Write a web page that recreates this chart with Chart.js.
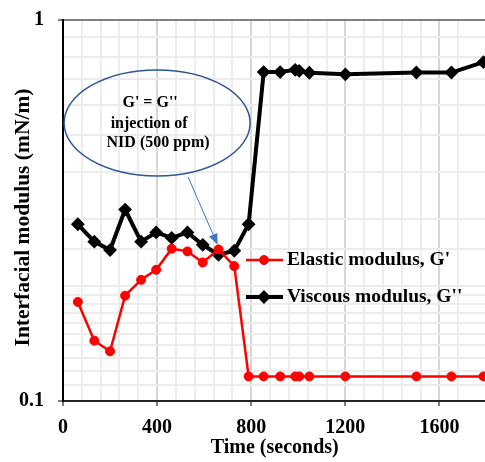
<!DOCTYPE html>
<html>
<head>
<meta charset="utf-8">
<script src="https://cdn.jsdelivr.net/npm/chart.js@4"></script>
<style>
  html, body { margin: 0; background: #fff; overflow: hidden; }
  #wrap { width: 485px; height: 462px; overflow: hidden; }
</style>
</head>
<body>
<!-- canvas is a little wider than the window: the figure is cut at the right edge like the original -->
<div id="wrap"><canvas id="modulusChart" width="494" height="462"></canvas></div>
<script>
// Chart data
const timeSec = [63, 133, 200, 264, 332, 396, 462, 529, 594, 661, 728, 789, 853, 923, 987, 1004, 1047, 1200, 1502, 1651, 1787];
const elasticG1 = [0.182, 0.144, 0.135, 0.189, 0.208, 0.221, 0.251, 0.247, 0.231, 0.250, 0.226,
                   0.116, 0.116, 0.116, 0.116, 0.116, 0.116, 0.116, 0.116, 0.116, 0.116];
const viscousG2 = [0.291, 0.262, 0.249, 0.318, 0.262, 0.277, 0.268, 0.277, 0.257, 0.242, 0.248,
                   0.291, 0.730, 0.730, 0.740, 0.735, 0.727, 0.720, 0.728, 0.728, 0.775];
const xMajorTicks = [0, 400, 800, 1200, 1600];
const yLabelTicks = [0.1, 1];
const seriesNames = ["Elastic modulus, G'", "Viscous modulus, G''"];
const noteLines = ["G' = G''", "injection of", "NID (500 ppm)"];
const yTitle = 'Interfacial modulus (mN/m)';

const FONT = "'Liberation Serif', 'Times New Roman', serif";

const toPoints = (xs, ys) => xs.map((x, i) => ({ x: x, y: ys[i] }));
const isMajorX = v => xMajorTicks.includes(v);
const isLabelY = v => yLabelTicks.some(t => Math.abs(t - v) < 1e-9);

// Legend drawn inside the plot, right of the drop
const insideLegend = {
    id: 'insideLegend',
    afterDatasetsDraw(chart) {
        const ctx = chart.ctx;
        const area = chart.chartArea;
        const x0 = area.left + 183;
        const rows = [area.top + 240, area.top + 277];
        ctx.save();
        chart.data.datasets.forEach((ds, i) => {
            const y = rows[i];
            ctx.strokeStyle = ds.borderColor;
            ctx.lineWidth = ds.borderWidth;
            ctx.beginPath();
            ctx.moveTo(x0, y);
            ctx.lineTo(x0 + 37, y);
            ctx.stroke();
            ctx.fillStyle = ds.pointBackgroundColor;
            ctx.strokeStyle = ds.pointBorderColor;
            ctx.lineWidth = ds.pointBorderWidth;
            Chart.helpers.drawPoint(ctx, {
                pointStyle: ds.pointStyle,
                radius: ds.pointRadius,
                borderWidth: ds.pointBorderWidth
            }, x0 + 18, y);
            ctx.fillStyle = '#000';
            ctx.font = 'bold 19.5px ' + FONT;
            ctx.textBaseline = 'middle';
            ctx.textAlign = 'left';
            ctx.fillText(ds.label, x0 + 41, y);
        });
        ctx.restore();
    }
};

// Callout ellipse with arrow, plus the rotated y title
const callout = {
    id: 'callout',
    afterDatasetsDraw(chart) {
        const ctx = chart.ctx;
        const xs = chart.scales.x, ys = chart.scales.y;
        const cx = xs.getPixelForValue(400), cy = ys.getPixelForValue(0.537);
        ctx.save();
        ctx.strokeStyle = '#2f5597';
        ctx.lineWidth = 1.5;
        ctx.beginPath();
        ctx.ellipse(cx, cy, 93, 53, 0, 0, Math.PI * 2);
        ctx.stroke();

        ctx.fillStyle = '#000';
        ctx.font = 'bold 16px ' + FONT;
        ctx.textAlign = 'center';
        ctx.textBaseline = 'middle';
        ctx.fillText(noteLines[0], cx - 7, cy - 20);
        ctx.fillText(noteLines[1], cx - 8, cy + 1);
        ctx.fillText(noteLines[2], cx + 1, cy + 20);

        const ax = xs.getPixelForValue(532), ay = ys.getPixelForValue(0.387);
        const bx = xs.getPixelForValue(657), by = ys.getPixelForValue(0.257);
        const ang = Math.atan2(by - ay, bx - ax);
        const len = 11, half = 4.5;
        ctx.strokeStyle = '#4472c4';
        ctx.fillStyle = '#4472c4';
        ctx.lineWidth = 1;
        ctx.beginPath();
        ctx.moveTo(ax, ay);
        ctx.lineTo(bx - len * Math.cos(ang), by - len * Math.sin(ang));
        ctx.stroke();
        ctx.beginPath();
        ctx.moveTo(bx, by);
        ctx.lineTo(bx - len * Math.cos(ang) + half * Math.sin(ang), by - len * Math.sin(ang) - half * Math.cos(ang));
        ctx.lineTo(bx - len * Math.cos(ang) - half * Math.sin(ang), by - len * Math.sin(ang) + half * Math.cos(ang));
        ctx.closePath();
        ctx.fill();

        // y axis title, sits a bit below the plot's middle in the original
        ctx.translate(23, (chart.chartArea.top + chart.chartArea.bottom) / 2 + 7);
        ctx.rotate(-Math.PI / 2);
        ctx.fillStyle = '#000';
        ctx.font = 'bold 21.5px ' + FONT;
        ctx.fillText(yTitle, 0, 0);
        ctx.restore();
    }
};

const bgWhite = {
    id: 'bgWhite',
    beforeDraw(chart) {
        const ctx = chart.ctx;
        ctx.save();
        ctx.fillStyle = '#fff';
        ctx.fillRect(0, 0, chart.width, chart.height);
        ctx.restore();
    }
};

const chartCtx = document.getElementById('modulusChart').getContext('2d');
new Chart(chartCtx, {
    type: 'line',
    data: {
        datasets: [
            {
                label: seriesNames[0],
                data: toPoints(timeSec, elasticG1),
                borderColor: '#ff0000',
                backgroundColor: '#ff0000',
                borderWidth: 2.5,
                pointStyle: 'circle',
                pointRadius: 4.5,
                pointBorderWidth: 1,
                pointBackgroundColor: '#ff0000',
                pointBorderColor: '#ff0000',
                tension: 0
            },
            {
                label: seriesNames[1],
                data: toPoints(timeSec, viscousG2),
                borderColor: '#000000',
                backgroundColor: '#000000',
                borderWidth: 4,
                pointStyle: 'rectRot',
                pointRadius: 5.5,
                pointBorderWidth: 2,
                pointBackgroundColor: '#000000',
                pointBorderColor: '#000000',
                tension: 0
            }
        ]
    },
    options: {
        responsive: false,
        animation: false,
        layout: { padding: { top: 20, right: 0, left: 0, bottom: 0 } },
        plugins: {
            legend: { display: false },
            tooltip: { enabled: false }
        },
        scales: {
            x: {
                type: 'linear',
                min: 0,
                max: 1800,
                afterFit: s => { s.height = 61; s.paddingLeft = 0; s.paddingRight = 0; },
                border: { color: '#222', width: 2 },
                grid: {
                    color: c => isMajorX(c.tick.value) ? '#d6d6d6' : '#ececec',
                    lineWidth: 2,
                    tickColor: c => isMajorX(c.tick.value) ? '#000' : 'rgba(0,0,0,0)',
                    tickLength: 5,
                    tickWidth: 1
                },
                ticks: {
                    stepSize: 80,
                    maxTicksLimit: 100,
                    autoSkip: false,
                    maxRotation: 0,
                    padding: 10,
                    color: '#000',
                    font: { family: FONT, size: 20, weight: 'bold' },
                    callback: v => isMajorX(v) ? String(v) : ''
                },
                title: {
                    display: true,
                    text: 'Time (seconds)',
                    color: '#000',
                    font: { family: FONT, size: 20, weight: 'bold' },
                    padding: { top: 0, bottom: 2 }
                }
            },
            y: {
                type: 'logarithmic',
                min: 0.1,
                max: 1,
                afterFit: s => { s.width = 63; s.paddingTop = 0; s.paddingBottom = 0; },
                border: { color: '#000', width: 2 },
                grid: {
                    color: c => Math.abs(c.tick.value - 1) < 1e-9 ? '#808080' : '#ececec',
                    lineWidth: 2,
                    tickColor: c => isLabelY(c.tick.value) ? '#000' : 'rgba(0,0,0,0)',
                    tickLength: 5,
                    tickWidth: 1
                },
                ticks: {
                    autoSkip: false,
                    padding: 14,
                    color: '#000',
                    font: { family: FONT, size: 20, weight: 'bold' },
                    callback: v => isLabelY(v) ? String(v) : ''
                },
                title: { display: false }
            }
        }
    },
    plugins: [bgWhite, callout, insideLegend]
});
</script>
</body>
</html>
